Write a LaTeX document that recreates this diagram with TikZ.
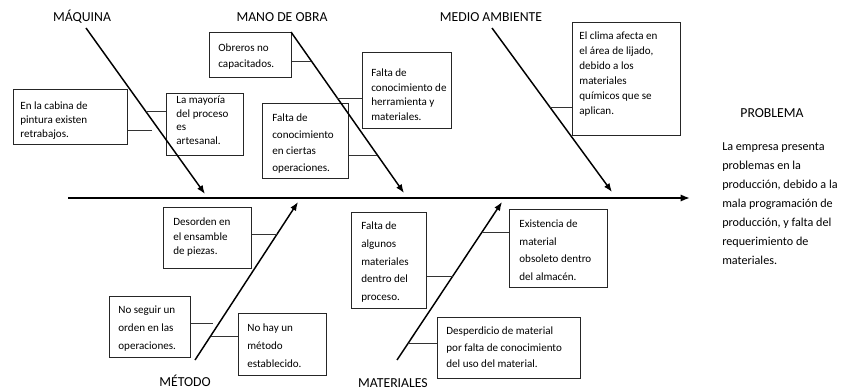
\documentclass[tikz,border=0pt]{standalone}
\usepackage{fontspec}
\setmainfont{Carlito}
\usetikzlibrary{arrows.meta}
\newdimen\pxu \pxu=0.75pt
% #1 width, #2 height, #3 first baseline offset, #4 line spacing, #5 text, #6 left pad (all px)
\newcommand\cbt[6]{\parbox[c][#2\pxu][t]{#1\pxu}{\leftskip=#6\pxu\rightskip=0pt plus 1fil\parfillskip=0pt plus 1fil\parindent=0pt\baselineskip=#4\pxu\hbadness=10000\rule{0pt}{#3\pxu}#5\par}}
\begin{document}
\begin{tikzpicture}[x=0.75pt,y=-0.75pt,
  cb/.style={draw=black!85, line width=0.6pt, inner sep=0pt, anchor=north west, font=\fontsize{8.3}{10}\selectfont},
  lab/.style={anchor=base, inner sep=0pt, font=\fontsize{10.3}{12}\selectfont},
  bone/.style={line width=1.1pt, -{Latex[length=6.5pt,width=5pt]}},
  spinearrow/.style={line width=2.2pt, -{Latex[length=7pt,width=5.5pt]}},
  tie/.style={line width=0.6pt, draw=black!80}]
\useasboundingbox (0,0) rectangle (842,392);

% labels
\node[lab] (lmaq) at (82,21.4) {MÁQUINA};
\node[lab] (lmano) at (282,21.4) {MANO DE OBRA};
\node[lab] (lmedio) at (491,21.4) {MEDIO AMBIENTE};
\node[lab] (lmet) at (185,386.4) {MÉTODO};
\node[lab] (lmat) at (393,387.4) {MATERIALES};
\node[lab] (lprob) at (772,117.4) {PROBLEMA};
\node[anchor=base west, inner sep=0pt, font=\fontsize{9.1}{14.25}\selectfont] (prob) at (722,151)
  {\parbox[t]{130\pxu}{\raggedright La empresa presenta\\problemas en la\\producción, debido a la\\mala programación de\\producción, y falta del\\requerimiento de\\materiales.}};

% spine and bones
\coordinate (sp0) at (68,198);
\coordinate (sp1) at (690,198);
\draw[spinearrow] (sp0) -- (sp1);

\coordinate (a1s) at (86,28);   \coordinate (a1e) at (205,194);
\coordinate (a2s) at (291,32);  \coordinate (a2e) at (404,193);
\coordinate (a3s) at (492,28);  \coordinate (a3e) at (612,192);
\coordinate (a4s) at (195,360); \coordinate (a4e) at (298,202);
\coordinate (a5s) at (397,360); \coordinate (a5e) at (502,202);

% boxes
\node[cb] (cab) at (13,89) {\cbt{114}{55}{20.3}{13.8}{En la cabina de\\pintura existen\\retrabajos.}{7}};
\node[cb] (mayo) at (166,93) {\cbt{77}{62}{10}{13.8}{La mayoría\\del proceso\\es\\artesanal.}{10}};
\node[cb] (obr) at (209,32) {\cbt{82}{45}{18.9}{16.7}{Obreros no\\capacitados.}{9}};
\node[cb] (herr) at (362,52) {\cbt{89}{76}{24.6}{14.5}{Falta de\\conocimiento de\\herramienta y\\materiales.}{9}};
\node[cb] (oper) at (262,103) {\cbt{86}{75}{18.6}{16.5}{Falta de\\conocimiento\\en ciertas\\operaciones.}{10}};
\node[cb] (clima) at (572,22) {\cbt{108}{113}{17.3}{15}{El clima afecta en\\el área de lijado,\\debido a los\\materiales\\químicos que se\\aplican.}{7}};
\node[cb] (deso) at (163,207) {\cbt{88}{61}{17.9}{14.7}{Desorden en\\el ensamble\\de piezas.}{10}};
\node[cb] (noseg) at (109,296) {\cbt{81}{61}{16.6}{18}{No seguir un\\orden en las\\operaciones.}{9}};
\node[cb] (nohay) at (238,313) {\cbt{88}{62}{17.9}{18}{No hay un\\método\\establecido.}{9}};
\node[cb] (alg) at (351,212) {\cbt{75}{96}{17.3}{17.7}{Falta de\\algunos\\materiales\\dentro del\\proceso.}{10}};
\node[cb] (exis) at (509,209) {\cbt{98}{78}{17.9}{17.8}{Existencia de\\material\\obsoleto dentro\\del almacén.}{10}};
\node[cb] (desp) at (437,317) {\cbt{143}{61}{17.3}{16.3}{Desperdicio de material\\por falta de conocimiento\\del uso del material.}{9}};

\draw[bone] (a1s) -- (a1e);
\draw[bone] (a2s) -- (a2e);
\draw[bone] (a3s) -- (a3e);
\draw[bone] (a4s) -- (a4e);
\draw[bone] (a5s) -- (a5e);

% ties
\coordinate (k1) at (152,130);
\coordinate (k2) at (146,111);
\coordinate (k3) at (311,61);
\coordinate (k4) at (337,98);
\coordinate (k5) at (377,155);
\coordinate (k6) at (550,107);
\coordinate (k7) at (278,234);
\coordinate (k8) at (213,323);
\coordinate (k9) at (211,336);
\coordinate (k10) at (453,276);
\coordinate (k11) at (482,232);
\coordinate (k12) at (408,343);
\draw[tie] (k1 -| cab.east) -- (k1);
\draw[tie] (k2) -- (k2 -| mayo.west);
\draw[tie] (k3 -| obr.east) -- (k3);
\draw[tie] (k4) -- (k4 -| herr.west);
\draw[tie] (k5 -| oper.east) -- (k5);
\draw[tie] (k6) -- (k6 -| clima.west);
\draw[tie] (k7 -| deso.east) -- (k7);
\draw[tie] (k8 -| noseg.east) -- (k8);
\draw[tie] (k9) -- (k9 -| nohay.west);
\draw[tie] (k10 -| alg.east) -- (k10);
\draw[tie] (k11) -- (k11 -| exis.west);
\draw[tie] (k12) -- (k12 -| desp.west);
\end{tikzpicture}
\end{document}
